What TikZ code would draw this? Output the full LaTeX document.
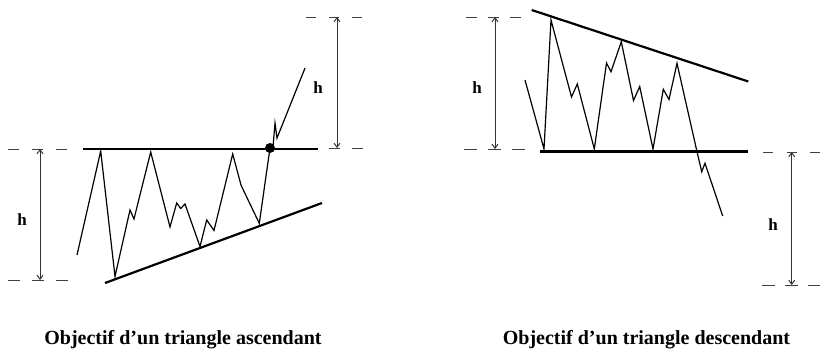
\documentclass[tikz,border=0pt]{standalone}
\usepackage{fontspec}
\setmainfont{Liberation Serif}
\usetikzlibrary{arrows.meta}
\begin{document}
\begin{tikzpicture}[x=1pt,y=-1pt,
  guide/.style={draw=black!75,line width=1pt},
  level/.style={draw=black,line width=2.6pt},
  price/.style={draw=black,line width=1.2pt,line join=miter},
  measure/.style={draw=black!80,line width=1pt,{Straight Barb[length=4pt,width=6pt]}-{Straight Barb[length=4pt,width=6pt]}},
  hlabel/.style={font=\fontsize{17}{17}\selectfont\bfseries},
  caption/.style={font=\fontsize{20}{20}\selectfont\bfseries,anchor=base}]
\useasboundingbox (0,0) rectangle (820,349);
\fill[white] (0,0) rectangle (820,349);
% ---------- ascending triangle ----------
\coordinate (a1) at (8,149); \coordinate (a2) at (72,149);
\coordinate (a3) at (8,280); \coordinate (a4) at (72,280);
\draw[guide,dash pattern=on 11pt off 13pt] (a1) -- (a2);
\draw[guide,dash pattern=on 12pt off 12pt] (a3) -- (a4);
\coordinate (aT) at (40,149); \coordinate (aB) at (40,280);
\draw[measure] (aT) -- (aB);
\node[hlabel] (ah) at (22,220) {h};
\coordinate (r1) at (83,149); \coordinate (r2) at (318,149);
\draw[level] (r1) -- (r2);
\coordinate (s1) at (105,283); \coordinate (s2) at (322,203);
\draw[level,line width=2.2pt] (s1) -- (s2);
\draw[price] (77,255) -- (100.7,151) -- (115,276.5) -- (130,210) -- (134,219) -- (150.7,152)
  -- (170,227) -- (176.7,203) -- (180.7,208.5) -- (185,204) -- (200,246.5) -- (206.7,220)
  -- (214,230.5) -- (232.7,154) -- (241,185) -- (243.3,190) -- (259.3,223.3) -- (270,148)
  -- (273,147) -- (275,123) -- (277,138) -- (305,68);
\node[circle,fill=black,inner sep=0pt,minimum size=10pt] (dot) at (270,148) {};
\coordinate (b1) at (306,17); \coordinate (b2) at (364,17);
\draw[guide,dash pattern=on 10pt off 13pt] (b1) -- (b2);
\coordinate (b3) at (329,148); \coordinate (b4) at (367,148);
\draw[guide,dash pattern=on 11pt off 12pt] (b3) -- (b4);
\coordinate (bT) at (337,17); \coordinate (bB) at (337,148);
\draw[measure] (bT) -- (bB);
\node[hlabel] (bh) at (318,88) {h};
\node[caption] (capA) at (183,344) {Objectif d’un triangle ascendant};
% ---------- descending triangle ----------
\coordinate (c1) at (466,17); \coordinate (c2) at (524,17);
\draw[guide,dash pattern=on 11pt off 11pt] (c1) -- (c2);
\coordinate (c3) at (464,149); \coordinate (c4) at (526,149);
\draw[guide,dash pattern=on 13pt off 11pt] (c3) -- (c4);
\coordinate (cT) at (495,17); \coordinate (cB) at (495,149);
\draw[measure] (cT) -- (cB);
\node[hlabel] (ch) at (477,88) {h};
\coordinate (t1) at (531.7,10); \coordinate (t2) at (748.3,81.5);
\draw[level,line width=2.2pt] (t1) -- (t2);
\coordinate (u1) at (540,151.5); \coordinate (u2) at (748.3,151.5);
\draw[level] (u1) -- (u2);
\draw[price] (525,80) -- (544,149) -- (551,20) -- (571.5,97) -- (577.3,84) -- (594.3,149)
  -- (606.5,63) -- (611,71.7) -- (621.3,41.7) -- (633.5,100.5) -- (639.7,86.5) -- (653,149)
  -- (663.3,89.3) -- (669,99.5) -- (677,63.3) -- (697,151.7) -- (701.7,171.7) -- (705,163.3)
  -- (722.7,216);
\coordinate (d1) at (763,152); \coordinate (d2) at (820,152);
\draw[guide,dash pattern=on 10pt off 13.5pt] (d1) -- (d2);
\coordinate (d3) at (762,285); \coordinate (d4) at (820,285);
\draw[guide,dash pattern=on 13pt off 10pt] (d3) -- (d4);
\coordinate (dT) at (791.7,152); \coordinate (dB) at (791.7,285);
\draw[measure] (dT) -- (dB);
\node[hlabel] (dh) at (773,225) {h};
\node[caption] (capD) at (646.5,344) {Objectif d’un triangle descendant};
\end{tikzpicture}
\end{document}
